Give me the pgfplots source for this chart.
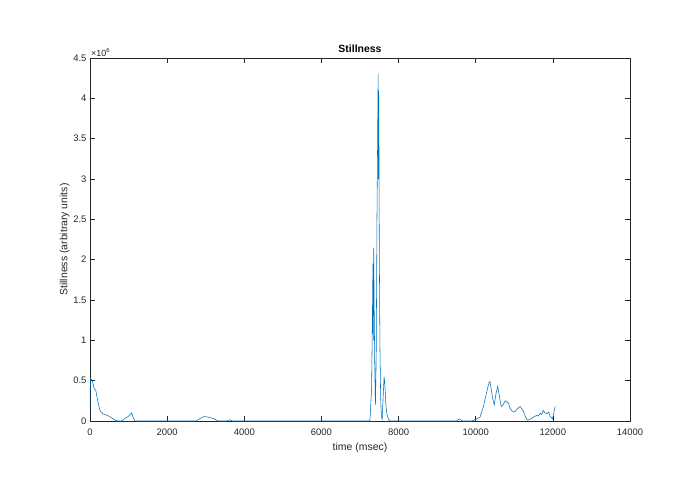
\documentclass[border=0pt]{standalone}
\usepackage{pgfplots}
\pgfplotsset{compat=1.18}
\usepackage{fontspec}
\setmainfont{Liberation Sans}
\definecolor{mblue}{rgb}{0,0.447,0.741}
\definecolor{axgray}{rgb}{0.15,0.15,0.15}
\begin{document}
\begin{tikzpicture}[x=1bp,y=1bp]
\useasboundingbox (-90bp,-73bp) rectangle (605bp,421bp);
\begin{axis}[
  at={(0,0)}, anchor=south west,
  scale only axis, width=540bp, height=363bp,
  xmin=0, xmax=14000, ymin=0, ymax=4500000,
  xtick={0,2000,...,14000},
  ytick={0,500000,1000000,1500000,2000000,2500000,3000000,3500000,4000000,4500000},
  yticklabels={0,0.5,1,1.5,2,2.5,3,3.5,4,4.5},
  scaled x ticks=false, scaled y ticks=false,
  xticklabel style={/pgf/number format/fixed, /pgf/number format/1000 sep={}, yshift=-4bp},
  /pgf/number format/assume math mode=true,
  tick align=inside, tickpos=both, major tick length=5bp,
  axis line style={axgray, line width=0.5pt},
  every tick/.style={axgray, line width=0.5pt},
  tick label style={font=\fontsize{9.5}{10}\selectfont, text=axgray},
  title={\textbf{Stillness}},
  title style={font=\fontsize{10.5}{12}\selectfont, yshift=-4bp},
  xlabel={time (msec)},
  ylabel={Stillness (arbitrary units)},
  label style={font=\fontsize{10.5}{12}\selectfont, text=axgray},
  xlabel style={yshift=-1bp},
  ylabel style={yshift=-3bp},
  clip mode=individual,
]
\addplot[mblue, line width=0.55pt] coordinates {
(0,150000) (10,530000) (60,500000) (110,400000) (150,380000) (200,250000) (260,130000) (330,90000) (450,70000) (560,40000) (650,10000) (720,0)
(820,0) (900,30000) (1000,60000) (1080,100000) (1120,40000) (1170,0)
(2750,0) (2850,30000) (2950,55000) (3050,50000) (3200,30000) (3320,0)
(3550,0) (3620,15000) (3700,0)
(7240,0) (7260,20000) (7300,400000) (7320,1200000) (7335,1950000) (7345,1000000) (7355,2150000) (7370,1300000) (7385,600000) (7400,200000)
(7420,800000) (7440,2500000) (7455,3400000) (7470,4300000) (7478,3000000) (7485,4100000) (7492,3400000) (7500,2200000) (7515,1000000) (7535,300000)
(7555,50000) (7575,20000) (7600,300000) (7625,550000) (7645,450000) (7670,200000) (7700,80000) (7740,20000) (7780,0)
(9500,0) (9580,25000) (9650,0) (9900,0) (10000,20000) (10110,45000) (10200,180000) (10280,350000) (10340,470000) (10370,490000)
(10400,400000) (10440,280000) (10480,200000) (10530,350000) (10570,430000) (10610,320000) (10660,180000) (10710,200000) (10760,250000)
(10800,240000) (10850,220000) (10890,160000) (10930,130000) (10980,110000) (11020,120000) (11080,150000) (11150,180000) (11200,150000)
(11235,120000) (11290,50000) (11340,10000) (11400,20000) (11450,30000) (11500,50000) (11580,70000) (11620,60000) (11670,95000)
(11710,80000) (11750,130000) (11800,100000) (11840,90000) (11890,110000) (11930,60000) (11990,25000) (12060,180000)
};
\node[anchor=south west, font=\fontsize{9}{10}\selectfont, text=axgray, inner sep=1bp] at (rel axis cs:0,1) {×10\textsuperscript{6}};
\end{axis}
\end{tikzpicture}
\end{document}
